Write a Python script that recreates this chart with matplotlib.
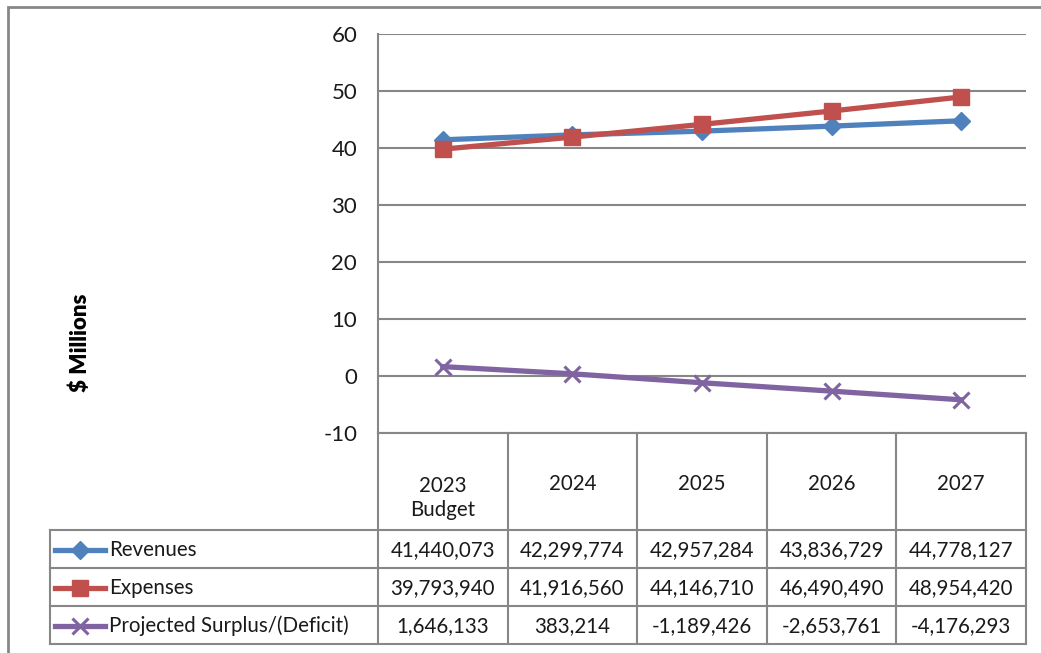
"""
Revenue / expense projection chart with Excel-style data table
"""

import matplotlib
matplotlib.use("Agg")
import matplotlib.pyplot as plt
from matplotlib.lines import Line2D
from matplotlib.patches import Rectangle

# -------- DATA --------
years = ["2023\nBudget", "2024", "2025", "2026", "2027"]
series_names = ["Revenues", "Expenses", "Projected Surplus/(Deficit)"]
revenues = [41440073, 42299774, 42957284, 43836729, 44778127]
expenses = [39793940, 41916560, 44146710, 46490490, 48954420]
surplus = [1646133, 383214, -1189426, -2653761, -4176293]
y_ticks = [-10, 0, 10, 20, 30, 40, 50, 60]
# ----------------------

W, H = 1041, 653
COLORS = ["#4F81BD", "#C0504D", "#8064A2"]
MARKERS = ["D", "s", "x"]
MSIZE = [9, 12, 12]
GRID = "#878787"
TEXT = "#1a1a1a"
FS = 14.8

plt.rcParams["font.family"] = ["Lato", "DejaVu Sans"]
plt.rcParams["axes.unicode_minus"] = False


def fx(px):
    return px / W


def fy(py):
    return 1 - py / H


def hline(fig, x0, x1, y):
    fig.add_artist(Line2D([fx(x0), fx(x1)], [fy(y), fy(y)], color=GRID, lw=1.5))


def vline(fig, x, y0, y1):
    fig.add_artist(Line2D([fx(x), fx(x)], [fy(y0), fy(y1)], color=GRID, lw=1.5))


def main():
    fig = plt.figure(figsize=(W / 100, H / 100), dpi=100)

    # outer chart frame (runs off the right and bottom edges)
    fig.add_artist(Rectangle((fx(8), fy(700)), fx(1100) - fx(8), fy(7) - fy(700),
                             fill=False, edgecolor=GRID, lw=2))

    # plot area
    left, right, top, bottom = 378, 1026, 34, 433
    ax = fig.add_axes([fx(left), fy(bottom), fx(right) - fx(left), fy(top) - fy(bottom)])
    xs = list(range(len(years)))
    all_series = [revenues, expenses, surplus]
    for vals, c, m, ms in zip(all_series, COLORS, MARKERS, MSIZE):
        ax.plot(xs, [v / 1e6 for v in vals], color=c, lw=3.8, marker=m,
                markersize=ms, markeredgewidth=2.2 if m == "x" else 1,
                markeredgecolor=c, zorder=3)
    ax.set_xlim(-0.5, len(years) - 0.5)
    ax.set_ylim(-10, 60)
    ax.set_yticks(y_ticks)
    ax.set_xticks([])
    ax.yaxis.grid(True, color=GRID, lw=1.5)
    ax.tick_params(axis="y", length=0, pad=15, labelsize=16, labelcolor=TEXT)
    for s in ["top", "right", "bottom"]:
        ax.spines[s].set_visible(False)
    ax.spines["left"].set_color(GRID)
    ax.spines["left"].set_linewidth(1.5)

    fig.text(fx(80), fy(343), "$ Millions", rotation=90, ha="center", va="center",
             fontsize=16, fontweight="heavy", color="black")

    # data table
    col_edges = [left + i * (right - left) / len(years) for i in range(len(years) + 1)]
    row_edges = [433, 530, 568, 606, 644]
    leg_left = 50

    # header row
    for x in col_edges:
        vline(fig, x, row_edges[0], row_edges[-1])
    hline(fig, left, right, row_edges[0])
    for i, lab in enumerate(years):
        cx = (col_edges[i] + col_edges[i + 1]) / 2
        cy = 484 + 14 * lab.count("\n")
        fig.text(fx(cx), fy(cy), lab, ha="center", va="center", fontsize=FS,
                 color=TEXT, linespacing=1.3)

    # body rows
    vline(fig, leg_left, row_edges[1], row_edges[-1])
    for y in row_edges[1:]:
        hline(fig, leg_left, right, y)
    for r, (name, vals) in enumerate(zip(series_names, all_series)):
        cy = (row_edges[r + 1] + row_edges[r + 2]) / 2 + 1
        c, m, ms = COLORS[r], MARKERS[r], MSIZE[r]
        fig.add_artist(Line2D([fx(55), fx(105)], [fy(cy), fy(cy)], color=c, lw=3.8))
        fig.add_artist(Line2D([fx(80)], [fy(cy)], color=c, marker=m, markersize=ms,
                              markeredgewidth=2.2 if m == "x" else 1, markeredgecolor=c))
        fig.text(fx(109), fy(cy), name, ha="left", va="center", fontsize=FS, color=TEXT)
        for i, v in enumerate(vals):
            cx = (col_edges[i] + col_edges[i + 1]) / 2
            fig.text(fx(cx), fy(cy), f"{v:,}", ha="center", va="center",
                     fontsize=FS, color=TEXT)

    fig.savefig("out.png", dpi=100)


if __name__ == "__main__":
    main()
